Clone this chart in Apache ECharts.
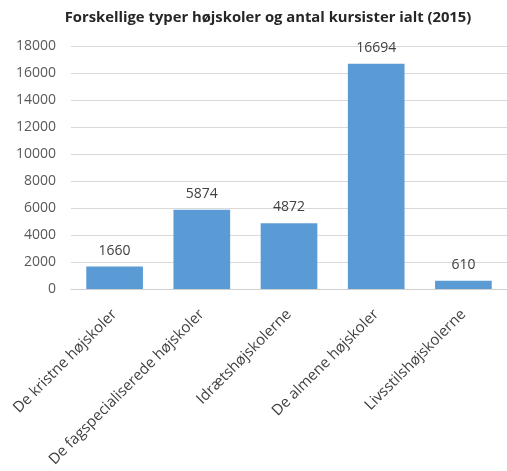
<!DOCTYPE html>
<html>
<head>
<meta charset="utf-8">
<script src="https://cdn.jsdelivr.net/npm/echarts@6/dist/echarts.min.js"></script>
<style>
  html, body { margin: 0; padding: 0; background: #fff; }
  #chart { width: 507px; height: 471px; }
</style>
</head>
<body>
<div id="chart"></div>
<script>
const categories = [
  "De kristne højskoler",
  "De fagspecialiserede højskoler",
  "Idrætshøjskolerne",
  "De almene højskoler",
  "Livsstilshøjskolerne"
];
const kursister = [1660, 5874, 4872, 16694, 610];
const yTicks = [0, 2000, 4000, 6000, 8000, 10000, 12000, 14000, 16000, 18000];

const chart = echarts.init(document.getElementById("chart"));
const fontFamily = "'Open Sans', 'Noto Sans', sans-serif";

chart.setOption({
  animation: false,
  title: {
    text: "Forskellige typer højskoler og antal kursister ialt (2015)",
    left: 263,
    textAlign: "center",
    top: 5,
    textStyle: {
      fontFamily: fontFamily,
      fontSize: 14.8,
      fontWeight: "bold",
      color: "#262626"
    }
  },
  grid: {
    left: 71,
    right: 0,
    top: 46,
    bottom: 182
  },
  xAxis: {
    type: "category",
    data: categories,
    axisTick: { show: false },
    axisLine: { lineStyle: { color: "#d0d0d0" } },
    axisLabel: {
      rotate: 45,
      interval: 0,
      margin: 23,
      fontFamily: fontFamily,
      fontSize: 15,
      color: "#404040"
    }
  },
  yAxis: {
    type: "value",
    min: yTicks[0],
    max: yTicks[yTicks.length - 1],
    interval: 2000,
    axisLine: { show: false },
    axisTick: { show: false },
    splitLine: { lineStyle: { color: "#d9d9d9" } },
    axisLabel: {
      margin: 15,
      fontFamily: fontFamily,
      fontSize: 14,
      color: "#595959",
      formatter: function (v) { return String(v); }
    }
  },
  series: [
    {
      type: "bar",
      data: kursister,
      barWidth: "65%",
      itemStyle: { color: "#5b9bd5" },
      label: {
        show: true,
        position: "top",
        distance: 9,
        fontFamily: fontFamily,
        fontSize: 14,
        color: "#404040"
      }
    }
  ]
});
</script>
</body>
</html>
